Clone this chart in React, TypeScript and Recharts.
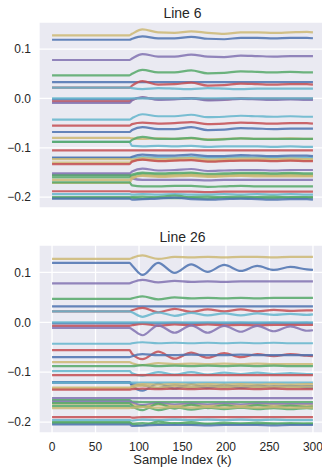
import React from 'react'
import { CartesianGrid, Line, LineChart, XAxis, YAxis } from 'recharts'

// sample positions (k) shared by every line
const ks = [0, 89, 92, 104, 122, 141, 160, 179, 198, 217, 236, 255, 274, 293, 300]
const xTicks = [0, 50, 100, 150, 200, 250, 300]
const yTicks = [-0.2, -0.1, 0, 0.1]

const palette: Record<string, string> = {
  B: '#4C72B0',
  G: '#55A868',
  R: '#C44E52',
  P: '#8172B2',
  Y: '#CCB974',
  C: '#64B5CD',
}

const line6Colors = [
  'Y', 'B', 'P', 'G', 'B', 'R', 'C', 'B', 'R', 'P', 'C', 'C', 'R', 'B', 'C', 'Y', 'G', 'R',
  'C', 'B', 'Y', 'Y', 'R', 'P', 'P', 'G', 'G', 'Y', 'Y', 'G', 'R', 'C', 'G', 'G', 'B',
]

const line6Values = [
  [0.128, 0.128, 0.131, 0.14, 0.134, 0.133, 0.136, 0.133, 0.131, 0.134, 0.134, 0.133, 0.134, 0.135, 0.134],
  [0.119, 0.119, 0.121, 0.126, 0.122, 0.122, 0.125, 0.121, 0.12, 0.123, 0.123, 0.122, 0.123, 0.123, 0.122],
  [0.078, 0.078, 0.081, 0.09, 0.085, 0.085, 0.089, 0.085, 0.084, 0.087, 0.086, 0.085, 0.086, 0.086, 0.086],
  [0.047, 0.047, 0.05, 0.058, 0.053, 0.053, 0.057, 0.051, 0.052, 0.055, 0.054, 0.053, 0.054, 0.053, 0.053],
  [0.033, 0.033, 0.033, 0.033, 0.033, 0.033, 0.033, 0.033, 0.033, 0.033, 0.033, 0.033, 0.033, 0.033, 0.033],
  [0.022, 0.022, 0.026, 0.035, 0.028, 0.029, 0.032, 0.026, 0.027, 0.03, 0.029, 0.028, 0.029, 0.029, 0.028],
  [0.022, 0.022, 0.021, 0.019, 0.021, 0.02, 0.019, 0.021, 0.02, 0.019, 0.02, 0.02, 0.02, 0.02, 0.02],
  [-0.002, -0.002, -0.001, 0.001, -0.001, -0.001, 0.0, -0.002, -0.001, -0.001, -0.001, -0.001, -0.001, -0.001, -0.001],
  [-0.006, -0.006, -0.003, 0.002, -0.001, -0.001, 0.001, -0.002, -0.002, 0.0, -0.001, -0.001, -0.001, -0.001, -0.001],
  [-0.009, -0.009, -0.004, 0.003, -0.003, -0.002, 0.0, -0.004, -0.003, -0.001, -0.002, -0.003, -0.002, -0.003, -0.003],
  [0.0, 0.0, 0.0, 0.0, 0.0, 0.0, 0.0, 0.0, 0.0, 0.0, 0.0, 0.0, 0.0, 0.0, 0.0],
  [-0.043, -0.043, -0.04, -0.032, -0.036, -0.036, -0.033, -0.038, -0.037, -0.035, -0.036, -0.037, -0.036, -0.037, -0.037],
  [-0.055, -0.055, -0.052, -0.049, -0.051, -0.05, -0.048, -0.052, -0.051, -0.049, -0.05, -0.051, -0.05, -0.05, -0.051],
  [-0.068, -0.068, -0.064, -0.058, -0.062, -0.062, -0.058, -0.064, -0.063, -0.06, -0.061, -0.062, -0.061, -0.061, -0.061],
  [-0.088, -0.088, -0.096, -0.097, -0.096, -0.097, -0.096, -0.098, -0.097, -0.097, -0.097, -0.098, -0.097, -0.098, -0.098],
  [-0.08, -0.08, -0.081, -0.082, -0.081, -0.082, -0.081, -0.083, -0.082, -0.081, -0.082, -0.082, -0.081, -0.082, -0.082],
  [-0.088, -0.088, -0.084, -0.078, -0.082, -0.082, -0.08, -0.084, -0.083, -0.081, -0.082, -0.082, -0.082, -0.082, -0.082],
  [-0.105, -0.105, -0.105, -0.105, -0.105, -0.105, -0.105, -0.105, -0.105, -0.105, -0.105, -0.105, -0.105, -0.105, -0.105],
  [-0.121, -0.121, -0.12, -0.119, -0.12, -0.12, -0.119, -0.12, -0.12, -0.119, -0.12, -0.12, -0.12, -0.12, -0.12],
  [-0.12, -0.12, -0.118, -0.114, -0.116, -0.116, -0.114, -0.117, -0.117, -0.115, -0.116, -0.117, -0.116, -0.116, -0.117],
  [-0.123, -0.123, -0.124, -0.121, -0.123, -0.122, -0.121, -0.124, -0.123, -0.122, -0.122, -0.123, -0.122, -0.123, -0.123],
  [-0.13, -0.13, -0.127, -0.124, -0.126, -0.125, -0.124, -0.127, -0.126, -0.125, -0.125, -0.126, -0.125, -0.126, -0.126],
  [-0.133, -0.133, -0.128, -0.124, -0.127, -0.126, -0.125, -0.128, -0.127, -0.126, -0.126, -0.127, -0.126, -0.127, -0.127],
  [-0.152, -0.152, -0.148, -0.142, -0.146, -0.145, -0.143, -0.147, -0.146, -0.145, -0.145, -0.146, -0.145, -0.145, -0.145],
  [-0.155, -0.155, -0.162, -0.165, -0.165, -0.165, -0.165, -0.166, -0.165, -0.165, -0.165, -0.165, -0.165, -0.165, -0.165],
  [-0.156, -0.156, -0.154, -0.15, -0.152, -0.151, -0.15, -0.153, -0.152, -0.151, -0.151, -0.152, -0.151, -0.152, -0.152],
  [-0.16, -0.16, -0.157, -0.153, -0.155, -0.154, -0.153, -0.156, -0.155, -0.154, -0.154, -0.155, -0.154, -0.155, -0.155],
  [-0.165, -0.165, -0.16, -0.157, -0.159, -0.158, -0.157, -0.159, -0.158, -0.157, -0.158, -0.158, -0.158, -0.158, -0.158],
  [-0.171, -0.171, -0.163, -0.156, -0.157, -0.156, -0.155, -0.157, -0.157, -0.156, -0.156, -0.157, -0.156, -0.157, -0.157],
  [-0.17, -0.17, -0.176, -0.178, -0.178, -0.177, -0.177, -0.179, -0.178, -0.177, -0.178, -0.178, -0.178, -0.178, -0.178],
  [-0.188, -0.188, -0.189, -0.189, -0.189, -0.189, -0.189, -0.19, -0.189, -0.189, -0.189, -0.189, -0.189, -0.189, -0.189],
  [-0.194, -0.194, -0.195, -0.194, -0.195, -0.194, -0.195, -0.195, -0.194, -0.195, -0.194, -0.195, -0.194, -0.195, -0.195],
  [-0.2, -0.2, -0.201, -0.203, -0.2, -0.197, -0.201, -0.203, -0.2, -0.199, -0.201, -0.202, -0.2, -0.2, -0.201],
  [-0.202, -0.202, -0.2, -0.199, -0.201, -0.202, -0.2, -0.199, -0.201, -0.202, -0.2, -0.199, -0.201, -0.201, -0.2],
  [-0.203, -0.203, -0.205, -0.204, -0.203, -0.201, -0.204, -0.205, -0.204, -0.203, -0.204, -0.205, -0.204, -0.204, -0.205],
]

const line26Colors = [
  'Y', 'B', 'P', 'G', 'B', 'R', 'C', 'B', 'R', 'P', 'C', 'C', 'R', 'B', 'Y', 'G', 'C', 'R',
  'B', 'B', 'C', 'Y', 'Y', 'R', 'P', 'G', 'P', 'Y', 'G', 'G', 'Y', 'R', 'C', 'G', 'G', 'B',
]

const line26Values = [
  [0.127, 0.127, 0.129, 0.134, 0.127, 0.131, 0.13, 0.131, 0.13, 0.131, 0.131, 0.13, 0.131, 0.131, 0.131],
  [0.119, 0.119, 0.114, 0.095, 0.119, 0.099, 0.116, 0.101, 0.115, 0.103, 0.113, 0.105, 0.111, 0.106, 0.105],
  [0.078, 0.078, 0.08, 0.085, 0.08, 0.083, 0.081, 0.082, 0.081, 0.082, 0.082, 0.082, 0.082, 0.082, 0.082],
  [0.047, 0.047, 0.048, 0.052, 0.046, 0.05, 0.048, 0.049, 0.048, 0.049, 0.048, 0.049, 0.049, 0.049, 0.049],
  [0.032, 0.032, 0.032, 0.032, 0.032, 0.032, 0.032, 0.032, 0.032, 0.032, 0.032, 0.032, 0.032, 0.032, 0.032],
  [0.022, 0.022, 0.024, 0.029, 0.02, 0.027, 0.021, 0.026, 0.022, 0.026, 0.022, 0.025, 0.023, 0.024, 0.024],
  [0.022, 0.022, 0.02, 0.011, 0.02, 0.013, 0.019, 0.014, 0.018, 0.014, 0.018, 0.015, 0.017, 0.015, 0.016],
  [-0.002, -0.002, -0.002, -0.001, -0.002, -0.001, -0.002, -0.001, -0.002, -0.001, -0.002, -0.001, -0.002, -0.001, -0.002],
  [-0.007, -0.007, -0.006, -0.003, -0.007, -0.004, -0.006, -0.004, -0.006, -0.005, -0.006, -0.005, -0.005, -0.005, -0.005],
  [-0.011, -0.011, -0.014, -0.026, -0.006, -0.021, -0.006, -0.021, -0.007, -0.019, -0.007, -0.018, -0.008, -0.017, -0.016],
  [0.0, 0.0, 0.0, 0.0, 0.0, 0.0, 0.0, 0.0, 0.0, 0.0, 0.0, 0.0, 0.0, 0.0, 0.0],
  [-0.043, -0.043, -0.042, -0.04, -0.042, -0.041, -0.042, -0.041, -0.042, -0.041, -0.042, -0.041, -0.042, -0.042, -0.042],
  [-0.056, -0.056, -0.063, -0.074, -0.059, -0.073, -0.061, -0.071, -0.062, -0.07, -0.064, -0.068, -0.064, -0.067, -0.068],
  [-0.07, -0.07, -0.068, -0.064, -0.066, -0.066, -0.065, -0.066, -0.066, -0.065, -0.066, -0.066, -0.066, -0.066, -0.066],
  [-0.08, -0.08, -0.082, -0.086, -0.082, -0.084, -0.083, -0.084, -0.083, -0.084, -0.083, -0.084, -0.084, -0.084, -0.084],
  [-0.088, -0.088, -0.088, -0.086, -0.088, -0.087, -0.088, -0.087, -0.088, -0.087, -0.088, -0.087, -0.088, -0.088, -0.088],
  [-0.098, -0.098, -0.102, -0.107, -0.1, -0.105, -0.1, -0.105, -0.101, -0.104, -0.101, -0.104, -0.102, -0.104, -0.104],
  [-0.106, -0.106, -0.106, -0.106, -0.106, -0.106, -0.106, -0.106, -0.106, -0.106, -0.106, -0.106, -0.106, -0.106, -0.106],
  [-0.121, -0.121, -0.127, -0.137, -0.123, -0.133, -0.124, -0.132, -0.125, -0.132, -0.126, -0.131, -0.127, -0.131, -0.131],
  [-0.12, -0.12, -0.124, -0.126, -0.132, -0.126, -0.131, -0.127, -0.13, -0.127, -0.13, -0.128, -0.129, -0.128, -0.128],
  [-0.121, -0.121, -0.121, -0.121, -0.121, -0.121, -0.121, -0.121, -0.121, -0.121, -0.121, -0.121, -0.121, -0.121, -0.121],
  [-0.131, -0.131, -0.128, -0.124, -0.125, -0.124, -0.125, -0.124, -0.125, -0.124, -0.125, -0.124, -0.125, -0.124, -0.124],
  [-0.133, -0.133, -0.131, -0.127, -0.131, -0.128, -0.13, -0.128, -0.13, -0.128, -0.13, -0.129, -0.13, -0.129, -0.129],
  [-0.135, -0.135, -0.134, -0.133, -0.134, -0.133, -0.134, -0.133, -0.134, -0.133, -0.134, -0.133, -0.134, -0.134, -0.134],
  [-0.152, -0.152, -0.152, -0.152, -0.152, -0.152, -0.152, -0.152, -0.152, -0.152, -0.152, -0.152, -0.152, -0.152, -0.152],
  [-0.156, -0.156, -0.159, -0.16, -0.16, -0.16, -0.16, -0.16, -0.16, -0.16, -0.16, -0.16, -0.16, -0.16, -0.16],
  [-0.159, -0.159, -0.161, -0.166, -0.162, -0.165, -0.163, -0.165, -0.163, -0.165, -0.163, -0.164, -0.164, -0.164, -0.164],
  [-0.163, -0.163, -0.165, -0.169, -0.165, -0.168, -0.166, -0.168, -0.166, -0.168, -0.166, -0.167, -0.167, -0.167, -0.167],
  [-0.162, -0.162, -0.167, -0.176, -0.163, -0.173, -0.165, -0.172, -0.166, -0.171, -0.166, -0.17, -0.167, -0.17, -0.169],
  [-0.168, -0.168, -0.171, -0.168, -0.176, -0.17, -0.175, -0.171, -0.174, -0.171, -0.174, -0.172, -0.174, -0.172, -0.173],
  [-0.172, -0.172, -0.171, -0.17, -0.171, -0.17, -0.171, -0.17, -0.171, -0.17, -0.171, -0.17, -0.171, -0.171, -0.171],
  [-0.19, -0.19, -0.191, -0.19, -0.19, -0.19, -0.19, -0.19, -0.19, -0.19, -0.19, -0.19, -0.19, -0.19, -0.19],
  [-0.196, -0.196, -0.197, -0.195, -0.196, -0.195, -0.196, -0.195, -0.196, -0.195, -0.196, -0.195, -0.196, -0.196, -0.196],
  [-0.2, -0.2, -0.204, -0.207, -0.199, -0.203, -0.2, -0.204, -0.201, -0.203, -0.201, -0.203, -0.202, -0.203, -0.203],
  [-0.202, -0.202, -0.203, -0.202, -0.204, -0.202, -0.204, -0.203, -0.204, -0.203, -0.204, -0.203, -0.204, -0.203, -0.203],
  [-0.205, -0.205, -0.208, -0.207, -0.206, -0.206, -0.206, -0.207, -0.206, -0.206, -0.206, -0.207, -0.206, -0.206, -0.206],
]

const FONT = '"Liberation Sans", Arial, sans-serif'
const TEXT = '#262626'

const toRows = (values: number[][]) =>
  ks.map((k, i) => {
    const row: Record<string, number> = { k }
    values.forEach((v, j) => {
      row['s' + j] = v[i]
    })
    return row
  })

const fmtY = (v: number) => v.toFixed(1).replace('-', '\u2212')

type PanelProps = {
  values: number[][]
  colors: string[]
  height: number
  top: number
  bottom: number
  showX: boolean
}

const Panel = ({ values, colors, height, top, bottom, showX }: PanelProps) => {
  const data = toRows(values)
  return (
    <LineChart width={340} height={height} data={data} margin={{ top, right: 14, bottom: 0, left: 0 }}>
      <CartesianGrid fill="#EAEAF2" stroke="#ffffff" strokeWidth={1.3} />
      <XAxis
        dataKey="k"
        type="number"
        domain={[-15, 315]}
        ticks={xTicks}
        allowDataOverflow
        axisLine={false}
        tickLine={false}
        tickSize={0}
        tickMargin={9}
        height={bottom}
        tick={showX ? { fill: TEXT, fontSize: 12, fontFamily: FONT } : false}
      />
      <YAxis
        type="number"
        domain={[-0.222, 0.155]}
        ticks={yTicks}
        allowDataOverflow
        axisLine={false}
        tickLine={false}
        tickSize={0}
        tickMargin={8}
        width={39}
        tickFormatter={fmtY}
        tick={{ fill: TEXT, fontSize: 12, fontFamily: FONT }}
      />
      {values.map((_, j) => (
        <Line
          key={j}
          dataKey={'s' + j}
          type="monotone"
          stroke={palette[colors[j]]}
          strokeWidth={2.2}
          strokeOpacity={0.85}
          dot={false}
          activeDot={false}
          isAnimationActive={false}
        />
      ))}
    </LineChart>
  )
}

const App = () => {
  return (
    <div style={{ position: 'absolute', left: 0, top: 0, width: 322, height: 469, overflow: 'hidden', background: '#fff', fontFamily: FONT, color: TEXT }}>
      <div style={{ position: 'absolute', left: 39, width: 287, top: 5, textAlign: 'center', fontSize: 14, lineHeight: '16px' }}>Line 6</div>
      <div style={{ position: 'absolute', left: 0, top: 0 }}>
        <Panel values={line6Values} colors={line6Colors} height={230} top={22} bottom={22} showX={false} />
      </div>
      <div style={{ position: 'absolute', left: 39, width: 287, top: 229, textAlign: 'center', fontSize: 14, lineHeight: '16px' }}>Line 26</div>
      <div style={{ position: 'absolute', left: 0, top: 230 }}>
        <Panel values={line26Values} colors={line26Colors} height={239} top={15} bottom={36} showX />
      </div>
      <div style={{ position: 'absolute', left: 39, width: 287, top: 452, textAlign: 'center', fontSize: 13, lineHeight: '15px' }}>Sample Index (k)</div>
    </div>
  )
}

export default App
